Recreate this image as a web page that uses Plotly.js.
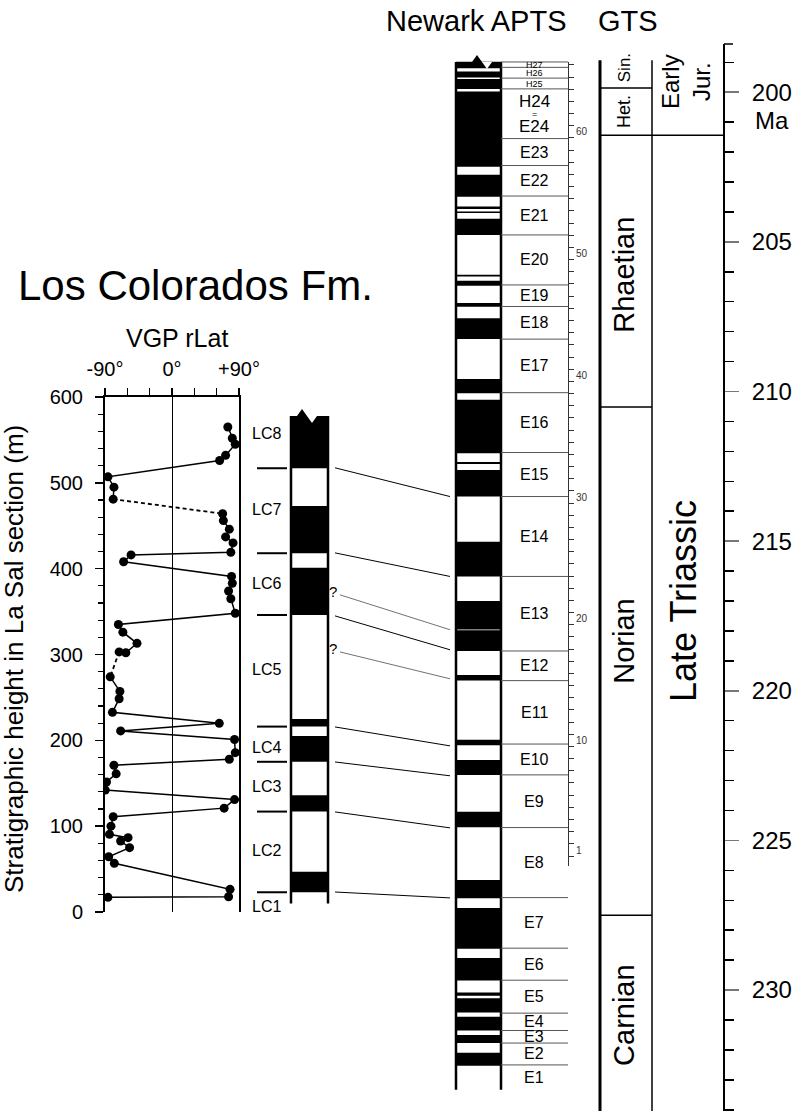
<!DOCTYPE html>
<html>
<head>
<meta charset="utf-8">
<script src="https://cdn.plot.ly/plotly-3.0.1.min.js"></script>
<style>
  body { margin: 0; background: #fff; }
  #chart { width: 796px; height: 1111px; }
</style>
</head>
<body>
<div id="chart"></div>
<script>
// ---- VGP latitudes, Los Colorados Fm. (La Sal section), in stratigraphic order from top
var vgpHeight = [565, 552, 545, 532, 526, 507, 495, 481, 464, 456, 446, 437, 430, 419, 416, 408,
                 391, 383, 374, 365, 348, 335, 326, 313, 302, 303, 274, 257, 248.5, 232.6, 219.8,
                 211, 201, 185.6, 178, 171, 161, 151.5, 142, 131, 121, 111, 100, 90.5, 86.6, 82.7,
                 75, 64.4, 56.7, 26.4, 17.8, 17.1];
var vgpLat = [75, 81, 85, 72, 64, -86, -78, -79, 68, 69, 77, 72, 82, 79, -55, -65,
              80, 81, 76, 79, 85, -72, -66, -47, -62, -71, -83, -70, -71, -80, 63.5,
              -69, 84, 85, 77, -78, -75, -88, -89.6, 84, 70, -79, -82, -84, -59, -69,
              -57, -85, -77.5, 78, 76, -86];
var dashedAfter = [7, 25];   // uncertain links drawn dashed

// ---- Los Colorados magnetostratigraphy (m)
var lcNormalBase = [517, 418, 346, 216, 175, 117, 23];
var lcNormalTop  = [578, 473, 401, 225, 205, 136, 47];
var lcColumnTop = 578, lcColumnBase = 10;
var lcBoundaries = [517, 418, 346, 216, 175, 117, 23];
var lcNames = ['LC1', 'LC2', 'LC3', 'LC4', 'LC5', 'LC6', 'LC7', 'LC8'];
var lcLabelHeight = [6, 72, 146, 192, 282, 383, 469, 558];

// ---- Newark APTS (Ma)
var newarkNormalTop = [198.98, 199.31, 199.56, 199.98, 202.76, 203.82, 203.99, 204.23, 206.10, 206.30,
  207.04, 207.55, 209.58, 210.28, 212.36, 212.62, 215.02, 217.00, 217.98, 219.47, 221.64, 222.31,
  224.04, 226.32, 227.26, 228.93, 230.08, 230.27, 230.89, 231.50, 232.09];
var newarkNormalBase = [199.20, 199.51, 199.89, 202.49, 203.49, 203.90, 204.04, 204.77, 206.16, 206.47,
  207.17, 208.25, 210.06, 212.06, 212.42, 213.51, 216.18, 217.95, 218.67, 219.66, 221.82, 222.81,
  224.56, 226.93, 228.62, 229.68, 230.19, 230.75, 231.35, 231.77, 232.53];
var newarkTop = 198.99, newarkBase = 233.33;
var newarkChrons = ['H27', 'H26', 'H25', 'H24=E24', 'E23', 'E22', 'E21', 'E20', 'E19', 'E18', 'E17',
  'E16', 'E15', 'E14', 'E13', 'E12', 'E11', 'E10', 'E9', 'E8', 'E7', 'E6', 'E5', 'E4', 'E3', 'E2', 'E1'];
var newarkChronBounds = [198.99, 199.17, 199.53, 199.89, 201.55, 202.45, 203.47, 204.77, 206.44, 207.16,
  208.25, 210.04, 212.04, 213.51, 216.18, 218.67, 219.66, 221.78, 222.81, 224.57, 226.91, 228.60,
  229.67, 230.77, 231.35, 231.77, 232.50, 233.33];
var depthTicks = [];
for (var d = 1; d <= 66; d++) depthTicks.push(d);
var depthLabels = [1, 10, 20, 30, 40, 50, 60];

// ---- correlation tie lines: La Sal height (m) -> Newark age (Ma)
var tieHeight = [517.5, 418.4, 369.5, 345, 303, 215.6, 174.8, 116.6, 23.3];
var tieAge = [213.51, 216.18, 217.96, 218.63, 219.60, 221.84, 222.84, 224.58, 226.92];
var tieUncertain = [false, false, true, false, true, false, false, false, false];

// ---- GTS
var stageNames = ['Sin.', 'Het.', 'Rhaetian', 'Norian', 'Carnian'];
var stageTop = [198.93, 199.86, 201.44, 210.52, 227.50];
var stageBase = [199.86, 201.44, 210.52, 227.50, 234.04];
var stageLabelAge = [199.20, 200.66, 206.10, 218.36, 230.83];
var seriesNames = ['Early<br>Jur.', 'Late Triassic'];
var seriesTop = [198.93, 201.44];
var seriesBase = [201.44, 234.04];
var seriesLabelAge = [199.66, 217.0];

// ---------------------------------------------------------------
var W = 796, H = 1111;
function fx(x) { return x / W; }
function fy(y) { return 1 - y / H; }
var FONT = 'Liberation Sans, Arial, sans-serif';

var layout = {
  width: W, height: H,
  margin: {l: 0, r: 0, t: 0, b: 0},
  paper_bgcolor: '#fff', plot_bgcolor: 'rgba(0,0,0,0)',
  showlegend: false,
  font: {family: FONT, color: '#000'},
  // canvas x for the columns
  xaxis: {domain: [0, 1], range: [0, W], visible: false, anchor: 'y', fixedrange: true},
  // age scale (Ma)
  yaxis: {
    domain: [0, fy(44)], range: [234.04, 198.39],
    anchor: 'free', position: fx(724), side: 'right',
    showline: true, linewidth: 2, linecolor: '#000',
    showgrid: false, zeroline: false,
    tickmode: 'linear', tick0: 200, dtick: 5,
    ticks: 'outside', ticklen: 14, tickwidth: 1.5, tickcolor: '#777',
    ticklabelstandoff: 8,
    tickfont: {family: FONT, size: 24, color: '#000'},
    minor: {tickmode: 'linear', tick0: 0, dtick: 1, ticks: 'outside', ticklen: 9, tickwidth: 1.5, tickcolor: '#000', showgrid: false}
  },
  // VGP plot
  xaxis2: {
    domain: [fx(105), fx(239)], range: [-90, 90], anchor: 'y2', side: 'top',
    showline: true, linewidth: 2, linecolor: '#000', mirror: false,
    showgrid: false, zeroline: true, zerolinecolor: '#000', zerolinewidth: 1,
    tickvals: [-90, -60, -30, 0, 30, 60, 90],
    ticktext: ['-90°', '', '', '0°', '', '', '+90°'],
    ticks: 'outside', ticklen: 7, tickwidth: 1.5, tickcolor: '#000',
    ticklabelstandoff: 4,
    tickfont: {family: FONT, size: 20, color: '#000'}
  },
  yaxis2: {
    domain: [fy(912), fy(397)], range: [0, 600], anchor: 'x2',
    showline: true, linewidth: 2, linecolor: '#000', mirror: true,
    showgrid: false, zeroline: false,
    tickmode: 'linear', tick0: 0, dtick: 100,
    ticks: 'outside', ticklen: 8, tickwidth: 1.5, tickcolor: '#000',
    ticklabelstandoff: 8,
    tickfont: {family: FONT, size: 20, color: '#000'},
    minor: {tickmode: 'linear', tick0: 0, dtick: 20, ticks: 'outside', ticklen: 5, tickwidth: 1.2, tickcolor: '#000', showgrid: false}
  },
  // Newark depth scale
  yaxis3: {
    domain: [fy(866), fy(62)], range: [0.178, 66.24],
    anchor: 'free', position: fx(568), side: 'right',
    showline: true, linewidth: 1, linecolor: '#333',
    showgrid: false, zeroline: false,
    tickvals: depthTicks,
    ticktext: depthTicks.map(function (v) { return depthLabels.indexOf(v) >= 0 ? String(v) : ''; }),
    ticks: 'outside', ticklen: 5, tickwidth: 1, tickcolor: '#333',
    ticklabelshift: -6,
    tickfont: {family: FONT, size: 10, color: '#333'}
  },
  shapes: [],
  annotations: []
};

function heightToAge(m) {
  var a = layout.yaxis2, b = layout.yaxis;
  var f = a.domain[0] + (m - a.range[0]) / (a.range[1] - a.range[0]) * (a.domain[1] - a.domain[0]);
  return b.range[0] + (f - b.domain[0]) / (b.domain[1] - b.domain[0]) * (b.range[1] - b.range[0]);
}

function line(x0, y0, x1, y1, yref, w, c) {
  layout.shapes.push({type: 'line', xref: 'x', yref: yref, x0: x0, x1: x1, y0: y0, y1: y1,
    line: {color: c || '#000', width: w}});
}
function rect(x0, y0, x1, y1, yref) {
  layout.shapes.push({type: 'rect', xref: 'x', yref: yref, x0: x0, x1: x1, y0: y0, y1: y1,
    line: {width: 0}, fillcolor: '#000'});
}
function text(t, x, y, yref, size, opts) {
  var a = {text: t, x: x, y: y, xref: 'x', yref: yref, showarrow: false,
    font: {family: FONT, size: size, color: '#000'}, xanchor: 'center', yanchor: 'middle'};
  for (var k in opts) a[k] = opts[k];
  layout.annotations.push(a);
}
function title(t, x, y, size, opts) {
  var a = {text: t, x: fx(x), y: fy(y), xref: 'paper', yref: 'paper', showarrow: false,
    xanchor: 'center', yanchor: 'middle', font: {family: FONT, size: size, color: '#000'}};
  for (var k in opts) a[k] = opts[k];
  layout.annotations.push(a);
}
// broken-top symbol; u = data units per pixel (negative when axis is reversed)
function breakTop(xl, top, yref, u) {
  layout.shapes.push({type: 'path', xref: 'x', yref: yref, fillcolor: '#000', line: {width: 0},
    path: 'M' + (xl) + ',' + top + ' L' + (xl + 5) + ',' + (top + 7 * u) + ' L' + (xl + 10) + ',' + top + ' Z'});
  layout.shapes.push({type: 'path', xref: 'x', yref: yref, fillcolor: '#fff', line: {width: 0},
    path: 'M' + (xl + 10) + ',' + top + ' L' + (xl + 15) + ',' + (top - 7 * u) + ' L' + (xl + 20) + ',' + top + ' Z'});
}

// ---- LC column
var lcX0 = 291, lcX1 = 328, mPerPx = 600 / 515;
for (var i = 0; i < lcNormalBase.length; i++) rect(lcX0, lcNormalBase[i], lcX1, lcNormalTop[i], 'y2');
line(lcX0, lcColumnBase, lcX0, lcColumnTop, 'y2', 2.5);
line(lcX1, lcColumnBase, lcX1, lcColumnTop, 'y2', 2.5);
breakTop(297, lcColumnTop, 'y2', mPerPx);
lcBoundaries.forEach(function (m) { line(257, m, 287, m, 'y2', 2); });
lcNames.forEach(function (n, i) { text(n, 250, lcLabelHeight[i], 'y2', 16, {xanchor: 'left'}); });

// ---- Newark column
var nwX0 = 456, nwX1 = 501, maPerPx = -1 / 29.93;
for (var j = 0; j < newarkNormalTop.length; j++) rect(nwX0, newarkNormalTop[j], nwX1, newarkNormalBase[j], 'y');
line(nwX0, newarkTop, nwX0, newarkBase, 'y', 2.5);
line(nwX1, newarkTop, nwX1, newarkBase, 'y', 2.5);
breakTop(472, newarkTop, 'y', maPerPx);
for (var k = 0; k < newarkChronBounds.length - 1; k++) line(nwX1, newarkChronBounds[k], 568, newarkChronBounds[k], 'y', 1, '#555');
newarkChrons.forEach(function (n, i) {
  var mid = (newarkChronBounds[i] + newarkChronBounds[i + 1]) / 2;
  if (n === 'H24=E24') {
    text('H24', 534, mid, 'y', 17, {yshift: 12});
    text('=', 534, mid, 'y', 9, {yshift: 0});
    text('E24', 534, mid, 'y', 17, {yshift: -13});
  } else if (n.charAt(0) === 'H') {
    text(n, 534, mid, 'y', 9);
  } else {
    text(n, 534, mid, 'y', 16);
  }
});

// ---- GTS columns
line(600, stageTop[0], 600, stageBase[stageBase.length - 1], 'y', 3);
line(652, stageTop[0], 652, stageBase[stageBase.length - 1], 'y', 1.5);
stageBase.slice(0, -1).forEach(function (a) {
  var x1 = seriesBase.indexOf(a) >= 0 ? 724 : 652;
  line(600, a, x1, a, 'y', 1.5);
});
var stageSize = [17, 18, 29, 29, 29];
stageNames.forEach(function (n, i) { text(n, 624, stageLabelAge[i], 'y', stageSize[i], {textangle: -90}); });
text(seriesNames[0], 686, seriesLabelAge[0], 'y', 24, {textangle: -90});
text(seriesNames[1], 684, seriesLabelAge[1], 'y', 36, {textangle: -90});

// age axis cap and unit
layout.shapes.push({type: 'line', xref: 'paper', yref: 'paper', x0: fx(724), x1: fx(733), y0: fy(44), y1: fy(44), line: {color: '#000', width: 1.5}});
text('Ma', 772, 200, 'y', 24, {yshift: -28});

// ---- titles
title('Newark APTS', 476, 21, 29);
title('GTS', 628, 21, 29);
title('Los Colorados Fm.', 195, 285, 42);
title('VGP rLat', 177, 338, 25);
title('Stratigraphic height in La Sal section (m)', 14, 659, 26, {textangle: -90});

// ---- traces
var solidX = [], solidY = [], dashX = [], dashY = [];
vgpHeight.forEach(function (h, i) {
  solidX.push(vgpLat[i]); solidY.push(h);
  if (dashedAfter.indexOf(i) >= 0) {
    solidX.push(null); solidY.push(null);
    dashX.push(vgpLat[i], vgpLat[i + 1], null); dashY.push(h, vgpHeight[i + 1], null);
  }
});

var tieX = [], tieY = [], qX = [], qY = [];
tieHeight.forEach(function (m, i) {
  if (tieUncertain[i]) {
    qX.push(340, 450, null); qY.push(heightToAge(m), tieAge[i], null);
    text('?', 333, heightToAge(m), 'y', 15, {yshift: 3});
  } else {
    tieX.push(335, 450, null); tieY.push(heightToAge(m), tieAge[i], null);
  }
});

var data = [
  {x: dashX, y: dashY, xaxis: 'x2', yaxis: 'y2', mode: 'lines', hoverinfo: 'skip',
   line: {color: '#000', width: 1.8, dash: '4px,3px'}},
  {x: solidX, y: solidY, xaxis: 'x2', yaxis: 'y2', mode: 'lines+markers', hoverinfo: 'skip',
   line: {color: '#000', width: 1.5}, marker: {color: '#000', size: 9}},
  {x: tieX, y: tieY, xaxis: 'x', yaxis: 'y', mode: 'lines', hoverinfo: 'skip',
   line: {color: '#000', width: 1}},
  {x: qX, y: qY, xaxis: 'x', yaxis: 'y', mode: 'lines', hoverinfo: 'skip',
   line: {color: '#333', width: 0.7}},
  {x: [null], y: [null], xaxis: 'x', yaxis: 'y3', mode: 'lines', hoverinfo: 'skip'}
];

Plotly.newPlot('chart', data, layout, {displayModeBar: false, staticPlot: true});
</script>
</body>
</html>
